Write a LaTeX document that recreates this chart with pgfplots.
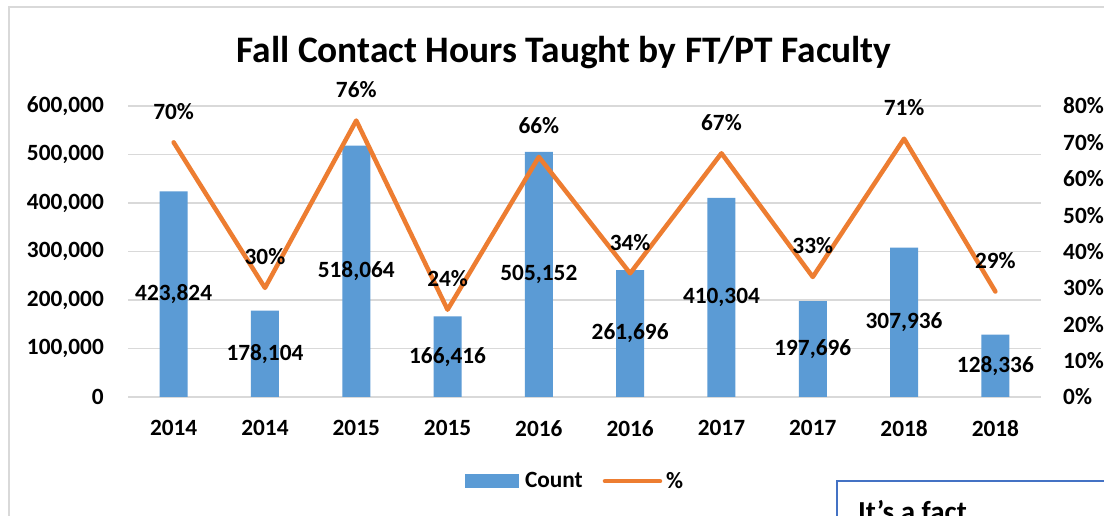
\documentclass[border=0pt]{standalone}
\usepackage{pgfplots}
\usepackage{pgfplotstable}
\pgfplotsset{compat=1.18}
\usepackage{fontspec}
\setmainfont{Carlito}
\definecolor{barblue}{HTML}{5B9BD5}
\definecolor{lineorange}{HTML}{ED7D31}
\definecolor{gridgray}{HTML}{D9D9D9}
\definecolor{boxblue}{HTML}{4472C4}
\pgfkeys{/pgf/number format/assume math mode=true}
\newcommand{\lblfont}{\fontsize{23.3bp}{27bp}\selectfont\bfseries}

\pgfplotstableread{
x count pct
0 423824 70
1 178104 30
2 518064 76
3 166416 24
4 505152 66
5 261696 34
6 410304 67
7 197696 33
8 307936 71
9 128336 29
}\datatable

\begin{document}
\begin{tikzpicture}[x=1bp,y=1bp]
\useasboundingbox (0,0) rectangle (1104,516);
\clip (0,0) rectangle (1104,516);
\fill[white] (0,0) rectangle (1104,516);
\draw[gridgray, line width=1.5bp] (9,-20) -- (9,509) -- (1130,509);
\node[anchor=base, inner sep=0, font=\fontsize{37.4bp}{41bp}\selectfont\bfseries] at (564,453) {Fall Contact Hours Taught by FT/PT Faculty};

\begin{axis}[
  at={(128bp,119bp)}, anchor=south west, scale only axis,
  width=913bp, height=291bp,
  xmin=-0.5, xmax=9.5, ymin=0, ymax=600000,
  xtick={0,...,9},
  xticklabels={2014,2014,2015,2015,2016,2016,2017,2017,2018,2018},
  ytick={0,100000,...,600000},
  scaled y ticks=false,
  axis line style={draw=none},
  major tick length=0pt,
  ymajorgrids, grid style={gridgray, line width=1.5bp},
  tick label style={font=\lblfont, inner sep=0pt},
  yticklabel style={anchor=east, xshift=-24bp, /pgf/number format/fixed, /pgf/number format/1000 sep={,}},
  xticklabel style={anchor=north, yshift=-23bp},
]
\addplot[ybar, bar width=28bp, fill=barblue, draw=none] table[x=x, y=count] {\datatable};
\addplot[draw=none, mark=none, point meta=explicit,
  nodes near coords={\pgfmathprintnumber[fixed,precision=0,1000 sep={,}]{\pgfplotspointmeta}},
  nodes near coords style={anchor=center, inner sep=0pt, font=\lblfont, text=black}]
  table[x=x, y expr=\thisrow{count}/2, meta=count] {\datatable};
\end{axis}

\begin{axis}[
  at={(128bp,119bp)}, anchor=south west, scale only axis,
  width=913bp, height=291bp,
  xmin=-0.5, xmax=9.5, ymin=0, ymax=80,
  axis y line*=right,
  hide x axis,
  ytick={0,10,...,80},
  yticklabel={\pgfmathprintnumber{\tick}\%},
  axis line style={draw=none},
  major tick length=0pt,
  tick label style={font=\lblfont, inner sep=0pt},
  yticklabel style={anchor=west, xshift=22bp},
  legend columns=2,
  legend style={at={(0.4895,-0.289)}, anchor=center, draw=none, fill=none,
    font=\lblfont, /tikz/every even column/.append style={column sep=18bp}},
]
\addlegendimage{legend image code/.code={\fill[barblue] (0bp,-6.5bp) rectangle (53bp,6.5bp);}}
\addlegendentry{\hspace{5bp}Count}
\addplot[lineorange, line width=4.5bp, line join=round, line cap=round, mark=none,
  legend image code/.code={\draw[lineorange, line width=4.5bp, line cap=round] (0bp,0bp) -- (55bp,0bp);},
  point meta=explicit,
  nodes near coords={\pgfmathprintnumber{\pgfplotspointmeta}\%},
  nodes near coords style={anchor=center, inner sep=0pt, yshift=31bp, font=\lblfont, text=black}]
  table[x=x, y=pct, meta=pct] {\datatable};
\addlegendentry{\hspace{2bp}\%}
\end{axis}

\draw[gray!60, line width=3bp] (840,-20) -- (840,32) -- (1130,32);
\draw[boxblue, line width=1.5bp, fill=white] (837,35) rectangle (1130,-20);
\node[anchor=base west, inner sep=0, font=\fontsize{29bp}{33bp}\selectfont\bfseries] at (858,-6) {It’s a fact};
\end{tikzpicture}
\end{document}
